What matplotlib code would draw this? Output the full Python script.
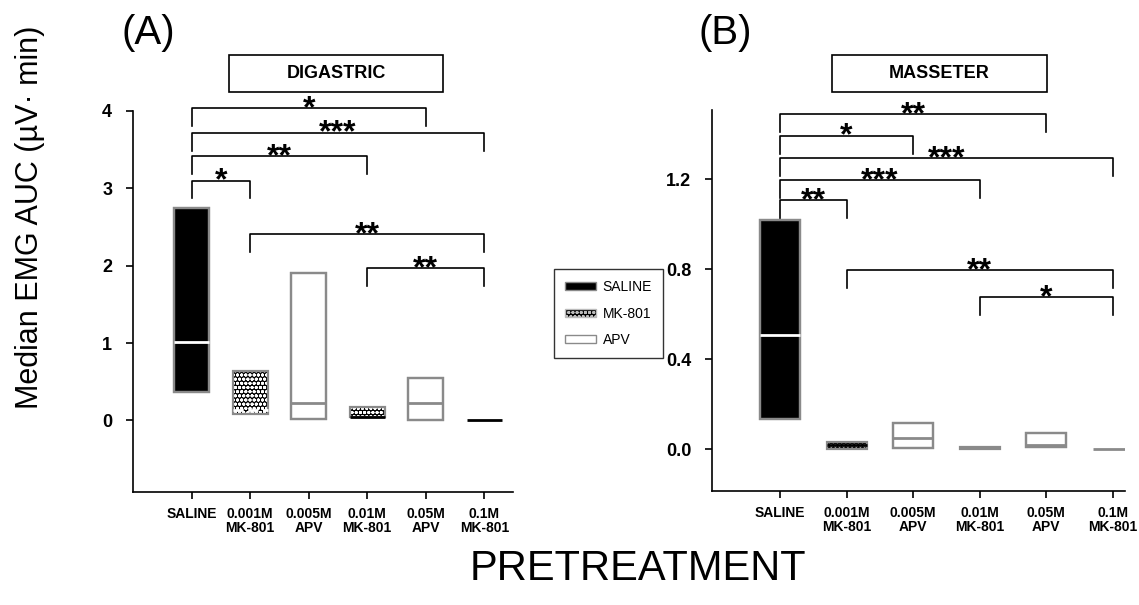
import numpy as np
import matplotlib.pyplot as plt
from matplotlib.patches import Rectangle, Patch

plt.rcParams['font.family'] = ['Liberation Sans', 'DejaVu Sans']

# grupy (os X)
groups = ['SALINE', '0.001M\nMK-801', '0.005M\nAPV', '0.01M\nMK-801', '0.05M\nAPV', '0.1M\nMK-801']
drugs = ['SALINE', 'MK-801', 'APV', 'MK-801', 'APV', 'MK-801']

# DIGASTRIC: dolny kwartyl, mediana, gorny kwartyl
dig_low = [0.37, 0.09, 0.02, 0.045, 0.01, 0.0]
dig_med = [1.02, 0.14, 0.22, 0.05, 0.23, 0.0]
dig_high = [2.75, 0.645, 1.91, 0.17, 0.555, 0.0]
# (od, do, wysokosc, gwiazdki)
dig_sig = [(1, 5, 4.04, '*'), (1, 6, 3.72, '***'), (1, 4, 3.42, '**'),
           (1, 2, 3.10, '*'), (2, 6, 2.41, '**'), (4, 6, 1.97, '**')]

# MASSETER
mas_low = [0.133, 0.0, 0.007, 0.001, 0.009, 0.0]
mas_med = [0.508, 0.02, 0.049, 0.006, 0.019, 0.0]
mas_high = [1.019, 0.032, 0.118, 0.012, 0.071, 0.0]
mas_sig = [(1, 5, 1.49, '**'), (1, 3, 1.394, '*'), (1, 6, 1.293, '***'),
           (1, 4, 1.197, '***'), (1, 2, 1.107, '**'), (2, 6, 0.797, '**'),
           (4, 6, 0.678, '*')]

fill = {'SALINE': 'black', 'MK-801': 'black', 'APV': 'white'}
hatch = {'SALINE': None, 'MK-801': 'oooo', 'APV': None}
edge = '#8a8a8a'


def panel(ax, low, med, high, med_colors, sig, ylim, xlim, yticks, fmt, title, hbox):
    x = np.arange(1, len(groups) + 1)
    w = 0.6
    for i in range(len(groups)):
        d = drugs[i]
        h = high[i] - low[i]
        if h > 0:
            ax.add_patch(Rectangle((x[i] - w/2, low[i]), w, h, facecolor=fill[d],
                                   edgecolor='white' if hatch[d] else edge,
                                   hatch=hatch[d], lw=0 if hatch[d] else 1.6, zorder=2))
            ax.add_patch(Rectangle((x[i] - w/2, low[i]), w, h, facecolor='none',
                                   edgecolor=edge, lw=1.6, zorder=3))
        ls = '--' if (d == 'MK-801' and med_colors[i] == 'white') else '-'
        ax.plot([x[i] - w/2, x[i] + w/2], [med[i], med[i]], color=med_colors[i],
                lw=2, ls=ls, zorder=4, solid_capstyle='butt')

    leg = 0.047 * (ylim[1] - ylim[0])
    for a, b, y, s in sig:
        ax.plot([a, a, b, b], [y - leg, y, y, y - leg], color='black', lw=1.2,
                clip_on=False, zorder=5)
        ax.annotate(s, xy=((a + b) / 2, y), xytext=(0, -6.5), textcoords='offset points',
                    ha='center', va='baseline', fontsize=23, fontweight='bold',
                    annotation_clip=False)

    ax.set_xlim(*xlim)
    ax.set_ylim(*ylim)
    ax.set_xticks(x)
    ax.set_xticklabels(groups, fontsize=10, fontweight='bold', linespacing=1.0)
    ax.set_yticks(yticks)
    ax.set_yticklabels([fmt.format(t) for t in yticks], fontsize=13, fontweight='bold')
    ax.tick_params(direction='out', length=5, width=1.2, pad=6)
    ax.tick_params(axis='y', pad=10)
    for sp in ['top', 'right']:
        ax.spines[sp].set_visible(False)
    for sp in ['left', 'bottom']:
        ax.spines[sp].set_linewidth(1.2)

    x0, x1, y0, y1 = hbox
    ax.add_patch(Rectangle((x0, y0), x1 - x0, y1 - y0, transform=ax.transAxes,
                           facecolor='white', edgecolor='black', lw=1.2, clip_on=False))
    ax.text((x0 + x1) / 2, (y0 + y1) / 2, title, transform=ax.transAxes, ha='center',
            va='center', fontsize=13, fontweight='bold')


fig = plt.figure(figsize=(11.39, 6.05), dpi=100)
axA = fig.add_axes([0.1168, 0.1873, 0.3336, 0.6293])
axB = fig.add_axes([0.6254, 0.1889, 0.3623, 0.6293])

panel(axA, dig_low, dig_med, dig_high,
      ['white', 'white', edge, 'black', edge, 'black'], dig_sig,
      (-0.92, 4.0), (0.0, 6.49), [0, 1, 2, 3, 4], '{:d}', 'DIGASTRIC',
      (0.2526, 0.8158, 1.049, 1.147))
panel(axB, mas_low, mas_med, mas_high,
      ['white', 'black', edge, edge, edge, edge], mas_sig,
      (-0.184, 1.508), (-0.018, 6.185), [0.0, 0.4, 0.8, 1.2], '{:.1f}', 'MASSETER',
      (0.289, 0.810, 1.0465, 1.1445))

fig.text(0.107, 0.945, '(A)', fontsize=29, ha='left', va='center')
fig.text(0.613, 0.945, '(B)', fontsize=29, ha='left', va='center')
fig.text(0.026, 0.64, 'Median EMG AUC (µV· min)', fontsize=22, rotation=90,
         ha='center', va='center')
fig.text(0.56, 0.06, 'PRETREATMENT', fontsize=30, ha='center', va='center')

handles = [Patch(facecolor='black', edgecolor=edge),
           Patch(facecolor='black', edgecolor='#bbbbbb', hatch='oooo'),
           Patch(facecolor='white', edgecolor=edge)]
lg = fig.legend(handles, ['SALINE', 'MK-801', 'APV'], loc='upper left',
                bbox_to_anchor=(554 / 1139, 1 - 269 / 605), fontsize=10, frameon=True,
                fancybox=False, edgecolor='black', handlelength=2.2, handleheight=0.55,
                labelspacing=0.9, borderpad=0.8, handletextpad=0.5, borderaxespad=0)
lg.get_frame().set_linewidth(1.0)

fig.savefig('out.png', dpi=100)
